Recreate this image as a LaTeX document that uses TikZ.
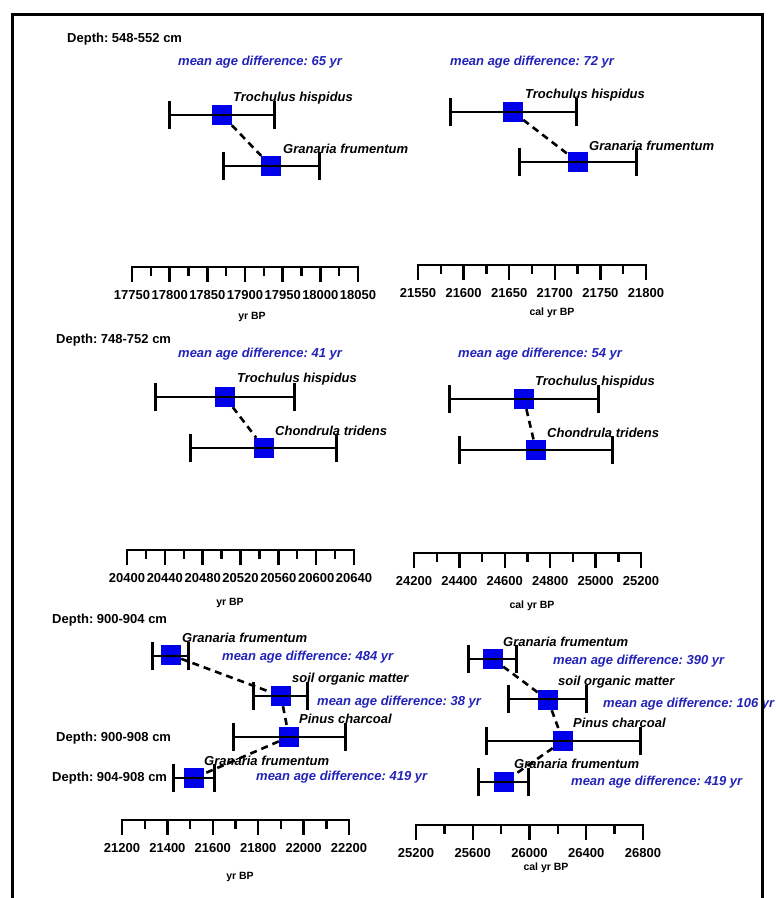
\documentclass[tikz,border=0pt]{standalone}
\usepackage{fontspec}
\setmainfont{Liberation Sans}
\usetikzlibrary{arrows.meta}
\definecolor{agefill}{RGB}{0,0,235}
\definecolor{diffblue}{RGB}{35,35,185}
\frenchspacing
\newcommand{\figfont}{\fontsize{13}{15}\selectfont}
\newcommand{\agescale}[6]{%
  \draw[scaleline] (#2,#4) -- (#3,#4);
  \foreach \v [count=\k from 0] in {#6} {
    \draw[scaleline] ({#2+\k*(#3-#2)/#5},#4) -- ++(0,14);
    \node[scalenum] (#1-\k) at ({#2+\k*(#3-#2)/#5},#4+28) {\v};
  }
  \foreach \k in {1,...,#5}
    \draw[scaleline] ({#2+(\k-0.5)*(#3-#2)/#5},#4) -- ++(0,8);
}

\begin{document}
\begin{tikzpicture}[
  x=1pt, y=-1pt,
  agebox/.style={rectangle, fill=agefill, minimum size=20pt, inner sep=0pt},
  errbar/.style={line width=2pt, {Bar[width=28pt,line width=2.6pt]}-{Bar[width=28pt,line width=2.6pt]}},
  link/.style={line width=2.6pt, dash pattern=on 7pt off 5pt},
  taxon/.style={anchor=west, inner sep=0pt, font=\figfont\bfseries\itshape},
  difflabel/.style={anchor=west, inner sep=0pt, text=diffblue, font=\figfont\bfseries\itshape},
  depthlabel/.style={anchor=west, inner sep=0pt, font=\figfont\bfseries},
  scaleline/.style={line width=2.4pt, line cap=rect},
  scalenum/.style={inner sep=0pt, font=\figfont\bfseries},
  scaletitle/.style={inner sep=0pt, font=\fontsize{10.5}{12}\selectfont\bfseries},
]
\useasboundingbox (0,0) rectangle (776,898);

% 548-552 cm
\node[depthlabel] (d1) at (67,39) {Depth: 548-552 cm};
\node[difflabel] (m1) at (178,62) {mean age difference: 65 yr};
\node[difflabel] (m2) at (450,62) {mean age difference: 72 yr};
\node[agebox] (th1) at (222,115) {};
\node[agebox] (gf1) at (271,166) {};
\node[agebox] (th2) at (513,112) {};
\node[agebox] (gf2) at (578,162) {};
\draw[errbar] (168,115) -- (276,115);
\draw[errbar] (222,166) -- (321,166);
\draw[errbar] (449,112) -- (578,112);
\draw[errbar] (518,162) -- (638,162);
\node[taxon] (th1-lab) at (233,98) {Trochulus hispidus};
\node[taxon] (gf1-lab) at (283,149) {Granaria frumentum};
\node[taxon] (th2-lab) at (525,95) {Trochulus hispidus};
\node[taxon] (gf2-lab) at (589,146) {Granaria frumentum};
\draw[link] (th1) -- (gf1);
\draw[link] (th2) -- (gf2);
\agescale{s1}{132}{358}{267}{6}{17750,17800,17850,17900,17950,18000,18050}
\agescale{s2}{418}{646}{265}{5}{21550,21600,21650,21700,21750,21800}
\node[scaletitle] (s1-title) at (252,317) {yr BP};
\node[scaletitle] (s2-title) at (552,313) {cal yr BP};

% 748-752 cm
\node[depthlabel] (d2) at (56,340) {Depth: 748-752 cm};
\node[difflabel] (m3) at (178,354) {mean age difference: 41 yr};
\node[difflabel] (m4) at (458,354) {mean age difference: 54 yr};
\node[agebox] (th3) at (225,397) {};
\node[agebox] (ct3) at (264,448) {};
\node[agebox] (th4) at (524,399) {};
\node[agebox] (ct4) at (536,450) {};
\draw[errbar] (154,397) -- (296,397);
\draw[errbar] (189,448) -- (338,448);
\draw[errbar] (448,399) -- (600,399);
\draw[errbar] (458,450) -- (614,450);
\node[taxon] (th3-lab) at (237,379) {Trochulus hispidus};
\node[taxon] (ct3-lab) at (275,431) {Chondrula tridens};
\node[taxon] (th4-lab) at (535,382) {Trochulus hispidus};
\node[taxon] (ct4-lab) at (547,433) {Chondrula tridens};
\draw[link] (th3) -- (ct3);
\draw[link] (th4) -- (ct4);
\agescale{s3}{127}{354}{550}{6}{20400,20440,20480,20520,20560,20600,20640}
\agescale{s4}{414}{641}{553}{5}{24200,24400,24600,24800,25000,25200}
\node[scaletitle] (s3-title) at (230,603) {yr BP};
\node[scaletitle] (s4-title) at (532,606) {cal yr BP};

% 900-908 cm
\node[depthlabel] (d3) at (52,620) {Depth: 900-904 cm};
\node[depthlabel] (d4) at (56,738) {Depth: 900-908 cm};
\node[depthlabel] (d5) at (52,778) {Depth: 904-908 cm};
\node[agebox] (gf5a) at (171,655) {};
\node[agebox] (som5) at (281,696) {};
\node[agebox] (pc5) at (289,737) {};
\node[agebox] (gf5b) at (194,778) {};
\node[agebox] (gf6a) at (493,659) {};
\node[agebox] (som6) at (548,700) {};
\node[agebox] (pc6) at (563,741) {};
\node[agebox] (gf6b) at (504,782) {};
\draw[errbar] (151,656) -- (190,656);
\draw[errbar] (252,696) -- (309,696);
\draw[errbar] (232,737) -- (347,737);
\draw[errbar] (172,778) -- (216,778);
\draw[errbar] (467,659) -- (518,659);
\draw[errbar] (507,699) -- (588,699);
\draw[errbar] (485,741) -- (642,741);
\draw[errbar] (477,782) -- (530,782);
\node[taxon] (gf5a-lab) at (182,638) {Granaria frumentum};
\node[taxon] (som5-lab) at (292,679) {soil organic matter};
\node[taxon] (pc5-lab) at (299,719) {Pinus charcoal};
\node[taxon] (gf5b-lab) at (204,761) {Granaria frumentum};
\node[taxon] (gf6a-lab) at (503,642) {Granaria frumentum};
\node[taxon] (som6-lab) at (558,682) {soil organic matter};
\node[taxon] (pc6-lab) at (573,723) {Pinus charcoal};
\node[taxon] (gf6b-lab) at (514,764) {Granaria frumentum};
\node[difflabel] (m5) at (222,657) {mean age difference: 484 yr};
\node[difflabel] (m6) at (317,702) {mean age difference: 38 yr};
\node[difflabel] (m7) at (256,777) {mean age difference: 419 yr};
\node[difflabel] (m8) at (553,661) {mean age difference: 390 yr};
\node[difflabel] (m9) at (603,704) {mean age difference: 106 yr};
\node[difflabel] (m10) at (571,782) {mean age difference: 419 yr};
\draw[link] (gf5a) -- (som5);
\draw[link] (som5) -- (pc5);
\draw[link] (pc5) -- (gf5b);
\draw[link] (gf6a) -- (som6);
\draw[link] (som6) -- (pc6);
\draw[link] (pc6) -- (gf6b);
\agescale{s5}{122}{349}{820}{5}{21200,21400,21600,21800,22000,22200}
\agescale{s6}{416}{643}{825}{4}{25200,25600,26000,26400,26800}
\node[scaletitle] (s5-title) at (240,877) {yr BP};
\node[scaletitle] (s6-title) at (546,868) {cal yr BP};

\draw[line width=3pt] (12,898) -- (12,14) -- (762,14) -- (762,898);
\end{tikzpicture}
\end{document}
